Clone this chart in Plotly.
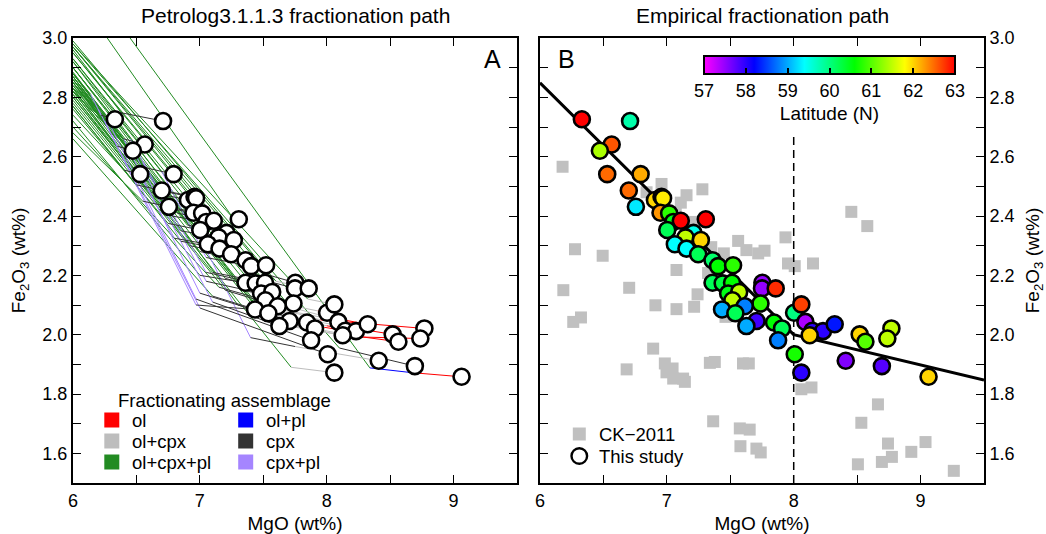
import plotly.graph_objects as go

# ---------------- data ----------------
# Samples of "This study" (same in both panels)
mgo = [6.33, 6.71, 6.565, 6.472, 6.53, 6.793, 6.70, 6.756, 6.906, 6.958,
       6.97, 6.95, 7.018, 7.05, 7.11, 7.307, 7.003, 7.21, 7.147, 7.268,
       7.063, 7.155, 7.247, 7.36, 7.404, 7.522, 7.36, 7.44, 7.514, 7.753,
       7.75, 7.858, 7.483, 7.57, 7.517, 7.738, 7.614, 7.435, 7.54, 8.003,
       8.06, 7.707, 7.845, 7.908, 7.627, 8.092, 8.147, 8.231, 8.323, 8.126,
       7.877, 8.52, 8.565, 8.77, 8.738, 8.008, 8.06, 8.41, 8.695, 9.063]
fe2o3 = [2.726, 2.72, 2.641, 2.62, 2.541, 2.541, 2.486, 2.431, 2.454, 2.465,
         2.46, 2.411, 2.409, 2.38, 2.384, 2.389, 2.353, 2.343, 2.328, 2.319,
         2.305, 2.29, 2.271, 2.251, 2.231, 2.234, 2.175, 2.173, 2.175, 2.175,
         2.156, 2.156, 2.139, 2.144, 2.116, 2.105, 2.096, 2.085, 2.072, 2.074,
         2.102, 2.046, 2.041, 2.021, 2.029, 2.043, 2.013, 2.012, 2.035, 1.998,
         1.981, 2.001, 1.976, 2.021, 1.987, 1.934, 1.872, 1.912, 1.894, 1.858]
latitude = [63.0, 59.8, 62.6, 61.4, 62.5, 62.2, 62.5, 59.3, 62.0, 62.1,
            61.9, 62.3, 60.8, 60.5, 63.0, 63.0, 60.2, 59.5, 61.5, 62.0,
            59.4, 59.4, 60.2, 60.1, 60.6, 60.8, 60.2, 60.3, 60.6, 57.5,
            57.5, 62.8, 60.5, 61.5, 61.5, 60.8, 58.8, 59.0, 60.2, 60.0,
            62.7, 57.9, 60.6, 60.2, 59.0, 57.4, 58.0, 58.0, 58.3, 62.0,
            58.8, 62.0, 61.0, 61.5, 61.5, 60.7, 58.0, 57.6, 57.8, 62.0]

# Petrolog fractionation paths (panel A): vertices and assemblage per segment
path_mgo = [
    [6.33, 6.22, 6.14, 6.00], [6.71, 6.38, 6.00], [6.565, 6.40, 6.00], [6.472, 6.35, 6.00],
    [6.53, 6.40, 6.00], [6.793, 6.50, 6.00], [6.70, 6.50, 6.00], [6.756, 6.55, 6.00],
    [6.906, 6.62, 6.00], [6.958, 6.66, 6.00], [6.97, 6.70, 6.00], [6.95, 6.70, 6.00],
    [7.018, 6.75, 6.00], [7.05, 6.78, 6.00], [7.11, 6.82, 6.00], [7.307, 7.25, 6.27],
    [7.003, 6.75, 6.00], [7.21, 6.90, 6.00], [7.147, 6.85, 6.00], [7.268, 6.95, 6.00],
    [7.063, 6.80, 6.55, 6.00], [7.155, 6.85, 6.00], [7.247, 6.92, 6.00], [7.36, 7.00, 6.00],
    [7.404, 7.05, 6.70, 6.00], [7.522, 7.15, 6.00], [7.36, 7.00, 6.00], [7.44, 7.05, 6.45, 6.00],
    [7.514, 7.10, 6.00], [7.753, 7.55, 6.00], [7.75, 7.45, 6.00], [7.858, 7.60, 6.00],
    [7.483, 7.05, 6.55, 6.00], [7.57, 7.20, 6.00], [7.517, 7.15, 6.00], [7.738, 7.35, 6.00],
    [7.614, 7.20, 6.00], [7.435, 6.97, 6.20, 6.00], [7.54, 7.10, 6.00], [8.003, 7.93, 7.70, 6.00],
    [8.06, 7.85, 6.00], [7.707, 7.00, 6.40, 6.00], [7.845, 7.45, 6.00], [7.908, 7.30, 6.00],
    [7.627, 7.10, 6.50, 6.00], [8.092, 7.95, 7.60, 6.00], [8.147, 7.98, 7.50, 6.00],
    [8.231, 8.00, 7.45, 6.00], [8.323, 8.00, 7.65, 6.00], [8.126, 7.55, 6.00],
    [7.877, 6.97, 6.30, 6.00], [8.52, 8.10, 7.60, 6.00], [8.565, 8.15, 7.55, 6.00],
    [8.77, 8.15, 7.70, 6.00], [8.738, 8.18, 7.62, 6.00], [8.008, 7.00, 6.25, 6.00],
    [8.06, 7.72, 6.00], [8.41, 7.75, 7.40, 6.95, 6.00], [8.695, 8.10, 6.00],
    [9.063, 8.67, 8.34, 6.45]]
path_fe = [
    [2.726, 2.74, 2.81, 2.88], [2.72, 2.748, 2.96], [2.641, 2.66, 2.885], [2.62, 2.635, 2.83],
    [2.541, 2.555, 2.74], [2.541, 2.57, 2.85], [2.486, 2.505, 2.77], [2.431, 2.45, 2.68],
    [2.454, 2.48, 2.83], [2.465, 2.49, 2.87], [2.46, 2.485, 2.88], [2.411, 2.43, 2.80],
    [2.409, 2.43, 2.85], [2.38, 2.40, 2.82], [2.384, 2.41, 2.87], [2.389, 2.40, 3.00],
    [2.353, 2.375, 2.76], [2.343, 2.37, 2.87], [2.328, 2.35, 2.80], [2.319, 2.35, 2.88],
    [2.305, 2.325, 2.52, 2.82], [2.29, 2.315, 2.77], [2.271, 2.30, 2.81], [2.251, 2.28, 2.84],
    [2.231, 2.26, 2.55, 2.93], [2.234, 2.27, 2.92], [2.175, 2.20, 2.72], [2.173, 2.21, 2.66, 2.90],
    [2.175, 2.21, 2.79], [2.175, 2.20, 2.97], [2.156, 2.19, 2.95], [2.156, 2.18, 2.99],
    [2.139, 2.18, 2.58, 2.86], [2.144, 2.19, 2.85], [2.116, 2.16, 2.70], [2.105, 2.15, 2.90],
    [2.096, 2.15, 2.78], [2.085, 2.10, 2.76, 2.83], [2.072, 2.13, 2.66], [2.074, 2.08, 2.10, 2.97],
    [2.102, 2.12, 2.98], [2.046, 2.14, 2.66, 2.84], [2.041, 2.09, 2.86], [2.021, 2.10, 2.86],
    [2.029, 2.11, 2.60, 2.82], [2.043, 2.05, 2.09, 2.93], [2.013, 2.025, 2.07, 2.87],
    [2.012, 2.03, 2.08, 2.86], [2.035, 2.06, 2.10, 2.95], [1.998, 2.04, 2.85],
    [1.981, 2.12, 2.70, 2.83], [2.001, 2.03, 2.07, 2.92], [1.976, 2.00, 2.05, 2.88],
    [2.021, 2.043, 2.08, 2.97], [1.987, 1.993, 2.04, 2.90], [1.934, 2.09, 2.72, 2.82],
    [1.872, 1.89, 2.81], [1.912, 1.96, 1.99, 2.37, 2.85], [1.894, 1.955, 2.98],
    [1.858, 1.872, 1.888, 3.00]]
path_phase = [
    ["cpx", "cpx+pl", "ol+cpx+pl"], ["cpx", "ol+cpx+pl"], ["cpx", "ol+cpx+pl"], ["cpx", "ol+cpx+pl"],
    ["cpx", "ol+cpx+pl"], ["cpx", "ol+cpx+pl"], ["cpx", "ol+cpx+pl"], ["cpx", "ol+cpx+pl"],
    ["cpx", "ol+cpx+pl"], ["cpx", "ol+cpx+pl"], ["cpx", "ol+cpx+pl"], ["cpx", "ol+cpx+pl"],
    ["cpx", "ol+cpx+pl"], ["cpx", "ol+cpx+pl"], ["cpx", "ol+cpx+pl"], ["cpx", "ol+cpx+pl"],
    ["cpx", "ol+cpx+pl"], ["cpx", "ol+cpx+pl"], ["cpx", "ol+cpx+pl"], ["cpx", "ol+cpx+pl"],
    ["cpx", "cpx+pl", "ol+cpx+pl"], ["cpx", "ol+cpx+pl"], ["cpx", "ol+cpx+pl"], ["cpx", "ol+cpx+pl"],
    ["cpx", "cpx+pl", "ol+cpx+pl"], ["cpx", "ol+cpx+pl"], ["cpx", "ol+cpx+pl"], ["cpx", "cpx+pl", "ol+cpx+pl"],
    ["cpx", "ol+cpx+pl"], ["cpx", "ol+cpx+pl"], ["cpx", "ol+cpx+pl"], ["ol+cpx", "ol+cpx+pl"],
    ["cpx", "cpx+pl", "ol+cpx+pl"], ["cpx", "ol+cpx+pl"], ["cpx", "ol+cpx+pl"], ["cpx", "ol+cpx+pl"],
    ["cpx", "ol+cpx+pl"], ["cpx", "cpx+pl", "ol+cpx+pl"], ["cpx", "ol+cpx+pl"], ["ol", "ol+cpx", "ol+cpx+pl"],
    ["ol+cpx", "ol+cpx+pl"], ["cpx", "cpx+pl", "ol+cpx+pl"], ["cpx", "ol+cpx+pl"], ["cpx", "ol+cpx+pl"],
    ["cpx", "cpx+pl", "ol+cpx+pl"], ["ol", "ol+cpx", "ol+cpx+pl"], ["ol", "ol+cpx", "ol+cpx+pl"],
    ["ol", "ol+cpx", "ol+cpx+pl"], ["ol", "ol+cpx", "ol+cpx+pl"], ["ol+cpx", "ol+cpx+pl"],
    ["cpx", "cpx+pl", "ol+cpx+pl"], ["ol", "ol+cpx", "ol+cpx+pl"], ["ol", "ol+cpx", "ol+cpx+pl"],
    ["ol", "ol+cpx", "ol+cpx+pl"], ["ol", "ol+cpx", "ol+cpx+pl"], ["cpx", "cpx+pl", "ol+cpx+pl"],
    ["ol+cpx", "ol+cpx+pl"], ["ol+cpx", "cpx", "cpx+pl", "ol+cpx+pl"], ["cpx", "ol+cpx+pl"],
    ["ol", "ol+pl", "ol+cpx+pl"]]

assemblages = ["ol", "ol+cpx", "ol+cpx+pl", "ol+pl", "cpx", "cpx+pl"]
assemblage_colors = ["#ff0000", "#bdbdbd", "#228b22", "#0000ff", "#333333", "#a585ff"]
draw_order = ["ol+cpx+pl", "cpx+pl", "ol+cpx", "cpx", "ol+pl", "ol"]

# CK-2011 compilation (panel B)
ck_mgo = [6.178, 6.958, 6.84, 7.155, 7.28, 7.11, 8.454, 8.58, 7.935, 7.562,
          7.07, 7.194, 6.276, 6.494, 7.35, 7.449, 7.627, 7.72, 7.77, 7.955,
          8.008, 8.152, 7.076, 7.325, 6.184, 6.703, 7.242, 6.91, 7.076, 7.215,
          6.262, 6.323, 7.462, 6.892, 6.683, 6.984, 7.045, 6.997, 7.05, 7.128,
          7.142, 7.339, 7.378, 7.60, 7.646, 8.06, 8.14, 8.664, 7.365, 8.533,
          7.575, 7.653, 7.58, 7.706, 7.74, 8.743, 8.774, 8.695, 8.506, 8.927,
          9.039, 9.262]
ck_fe = [2.566, 2.508, 2.48, 2.47, 2.49, 2.445, 2.414, 2.366, 2.328, 2.316,
         2.409, 2.38, 2.288, 2.266, 2.295, 2.274, 2.285, 2.274, 2.283, 2.24,
         2.231, 2.24, 2.218, 2.208, 2.15, 2.158, 2.136, 2.099, 2.086, 2.094,
         2.043, 2.058, 2.06, 1.953, 1.883, 1.903, 1.886, 1.873, 1.852, 1.852,
         1.841, 1.905, 1.908, 1.903, 1.903, 1.816, 1.822, 1.765, 1.708, 1.703,
         1.684, 1.68, 1.624, 1.616, 1.603, 1.633, 1.588, 1.571, 1.563, 1.605,
         1.638, 1.541]

# Empirical fractionation path and MgO = 8 divider
fit_mgo = [6.0, 8.0, 9.5]
fit_fe = [2.849, 2.0, 1.847]
divider_mgo = [8.0, 8.0]
divider_fe = [1.5, 2.67]

x_ticks = [6, 7, 8, 9]
lat_ticks = [57, 58, 59, 60, 61, 62, 63]
lat_minor = [57.5, 58.5, 59.5, 60.5, 61.5, 62.5]

# ---------------- figure ----------------
FONT = "Liberation Sans, Arial, Helvetica, sans-serif"
W, H = 1046, 534
ML, MR, MT, MB = 73, 62, 38, 51
PW, PH = W - ML - MR, H - MT - MB
CB_X0, CB_X1, CB_TOP, CB_THICK = 704, 955, 56, 18


def px(xp):
    return (xp - ML) / PW


def py(yp):
    return (H - MB - yp) / PH


rainbow = [[0.0, "#ff00ff"], [0.2, "#0000ff"], [0.4, "#00ffff"],
           [0.6, "#00ff00"], [0.8, "#ffff00"], [1.0, "#ff0000"]]

fig = go.Figure()

# Panel A paths
col_of = dict(zip(assemblages, assemblage_colors))
for ph in draw_order:
    xs, ys = [], []
    for pm, pf, pp in zip(path_mgo, path_fe, path_phase):
        for i, seg in enumerate(pp):
            if seg == ph:
                xs += [pm[i], pm[i + 1], None]
                ys += [pf[i], pf[i + 1], None]
    fig.add_trace(go.Scatter(x=xs, y=ys, mode="lines", xaxis="x", yaxis="y",
                             line=dict(color=col_of[ph], width=1),
                             showlegend=False, hoverinfo="skip"))

fig.add_trace(go.Scatter(x=mgo, y=fe2o3, mode="markers", xaxis="x", yaxis="y",
                         marker=dict(size=16, color="white",
                                     line=dict(color="black", width=2.6)),
                         showlegend=False))

# Panel B
fig.add_trace(go.Scatter(x=ck_mgo, y=ck_fe, mode="markers", xaxis="x2", yaxis="y2",
                         marker=dict(symbol="square", size=12, color="#c0c0c0"),
                         showlegend=False))
fig.add_trace(go.Scatter(x=divider_mgo, y=divider_fe, mode="lines", xaxis="x2", yaxis="y2",
                         line=dict(color="black", width=1.5, dash="8px,5px"),
                         showlegend=False))
fig.add_trace(go.Scatter(x=fit_mgo, y=fit_fe, mode="lines", xaxis="x2", yaxis="y2",
                         line=dict(color="black", width=3), showlegend=False))

fig.add_trace(go.Scatter(
    x=mgo, y=fe2o3, mode="markers", xaxis="x2", yaxis="y2", showlegend=False,
    marker=dict(size=16, color=latitude, colorscale=rainbow, cmin=57, cmax=63,
                line=dict(color="black", width=2.6),
                colorbar=dict(orientation="h", x=px((CB_X0 + CB_X1) / 2), xanchor="center",
                              y=py(CB_TOP), yanchor="top", len=CB_X1 - CB_X0, lenmode="pixels",
                              thickness=CB_THICK, thicknessmode="pixels",
                              outlinewidth=2, outlinecolor="black",
                              xpad=0, ypad=0,
                              tickvals=lat_ticks,
                              ticks="inside", ticklen=7, tickwidth=1.5, tickcolor="black",
                              tickfont=dict(family=FONT, size=18, color="black"),
                              title=dict(text="Latitude (N)", side="bottom",
                                         font=dict(family=FONT, size=19, color="black")))),
))

axis_common = dict(showgrid=False, zeroline=False, showline=True, linewidth=2,
                   linecolor="black", mirror="ticks", ticks="inside", ticklen=8,
                   tickwidth=1.2, tickcolor="black", automargin=False,
                   tickfont=dict(family=FONT, size=18, color="black"))
xcommon = dict(axis_common, range=[6, 9.5], tickvals=x_ticks,
               minor=dict(tickvals=[6.5, 7.5, 8.5], ticks="inside", ticklen=8,
                          tickwidth=1.2, tickcolor="black"),
               title=dict(text="MgO (wt%)", font=dict(family=FONT, size=19, color="black"),
                          standoff=10))
ycommon = dict(axis_common, range=[1.5, 3.0], tick0=1.6, dtick=0.2, tickformat=".1f",
               minor=dict(dtick=0.1, tick0=1.5, ticks="inside", ticklen=8,
                          tickwidth=1.2, tickcolor="black"),
               title=dict(text="Fe<sub>2</sub>O<sub>3</sub> (wt%)",
                          font=dict(family=FONT, size=19, color="black"), standoff=12))

fig.update_layout(
    width=W, height=H, margin=dict(l=ML, r=MR, t=MT, b=MB, autoexpand=False),
    plot_bgcolor="white", paper_bgcolor="white",
    font=dict(family=FONT, size=18, color="black"),
    xaxis=dict(xcommon, domain=[0, px(517)], anchor="y"),
    yaxis=dict(ycommon, domain=[0, 1], anchor="x"),
    xaxis2=dict(xcommon, domain=[px(540), 1], anchor="y2"),
    yaxis2=dict(ycommon, domain=[0, 1], anchor="x2", side="right"),
    showlegend=False,
)

ann = []
ann.append(dict(text="Petrolog3.1.1.3 fractionation path", x=px(295), y=py(15),
                xref="paper", yref="paper", showarrow=False, xanchor="center",
                yanchor="middle", font=dict(family=FONT, size=21)))
ann.append(dict(text="Empirical fractionation path", x=px(762), y=py(15),
                xref="paper", yref="paper", showarrow=False, xanchor="center",
                yanchor="middle", font=dict(family=FONT, size=21)))
ann.append(dict(text="A", x=px(492), y=py(59), xref="paper", yref="paper",
                showarrow=False, xanchor="center", yanchor="middle",
                font=dict(family=FONT, size=25)))
ann.append(dict(text="B", x=px(566), y=py(59), xref="paper", yref="paper",
                showarrow=False, xanchor="center", yanchor="middle",
                font=dict(family=FONT, size=25)))

shapes = []
# half-degree ticks of the latitude colour bar
for v in lat_minor:
    xc = CB_X0 + (v - lat_ticks[0]) / (lat_ticks[-1] - lat_ticks[0]) * (CB_X1 - CB_X0)
    shapes.append(dict(type="line", xref="paper", yref="paper", x0=px(xc), x1=px(xc),
                       y0=py(CB_TOP + CB_THICK), y1=py(CB_TOP + CB_THICK - 5),
                       line=dict(color="black", width=1.5)))

# Panel A legend (drawn by hand)
ann.append(dict(text="Fractionating assemblage", x=px(116), y=py(400), xref="paper",
                yref="paper", showarrow=False, xanchor="left", yanchor="middle",
                font=dict(family=FONT, size=18.6)))
leg_pos = {"ol": (111.8, 420), "ol+cpx": (111.8, 441), "ol+cpx+pl": (111.8, 462),
           "ol+pl": (245.7, 420), "cpx": (245.7, 441), "cpx+pl": (245.7, 462)}
for name, colr in zip(assemblages, assemblage_colors):
    cx, cy = leg_pos[name]
    shapes.append(dict(type="rect", xref="paper", yref="paper",
                       x0=px(cx - 7.5), x1=px(cx + 7.5), y0=py(cy + 7.5), y1=py(cy - 7.5),
                       fillcolor=colr, line=dict(width=0)))
    ann.append(dict(text=name, x=px(cx + 18), y=py(cy), xref="paper", yref="paper",
                    showarrow=False, xanchor="left", yanchor="middle",
                    font=dict(family=FONT, size=18.5)))

# Panel B legend
shapes.append(dict(type="rect", xref="paper", yref="paper",
                   x0=px(572.8), x1=px(585.8), y0=py(440.5), y1=py(427.5),
                   fillcolor="#c0c0c0", line=dict(width=0)))
shapes.append(dict(type="circle", xref="paper", yref="paper",
                   x0=px(571.5), x1=px(587.1), y0=py(463.8), y1=py(448.2),
                   fillcolor="white", line=dict(color="black", width=2.4)))
ann.append(dict(text="CK\u22122011", x=px(596.5), y=py(434), xref="paper", yref="paper",
                showarrow=False, xanchor="left", yanchor="middle",
                font=dict(family=FONT, size=18.5)))
ann.append(dict(text="This study", x=px(596.5), y=py(456), xref="paper", yref="paper",
                showarrow=False, xanchor="left", yanchor="middle",
                font=dict(family=FONT, size=18.5)))

fig.update_layout(annotations=ann, shapes=shapes)
fig.write_html("out.html")
